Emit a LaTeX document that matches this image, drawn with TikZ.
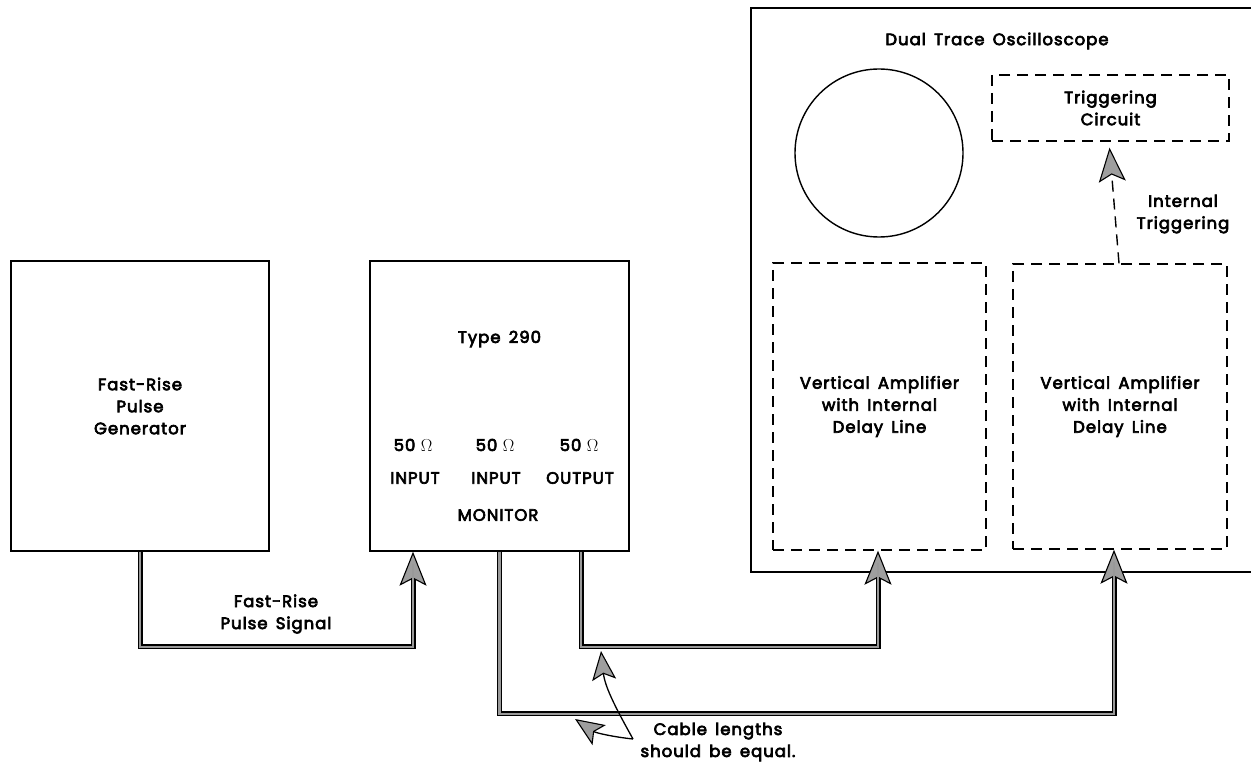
\documentclass[tikz,border=0pt]{standalone}
\usepackage{fontspec}
\setmainfont{Poppins}[LetterSpace=6, FakeBold=4]
\usetikzlibrary{arrows.meta}
\tikzset{
  gtip/.tip={Stealth[length=34pt, width=27pt, inset=7pt, fill=black!38, line width=1.1pt]},
  stip/.tip={Stealth[length=29pt, width=24pt, inset=6pt, fill=black!38, line width=1.1pt]}
}
\begin{document}
\begin{tikzpicture}[x=1pt,y=-1pt,
  every node/.style={font=\fontsize{16.5}{22}\selectfont, align=center, inner sep=0pt},
  dbox/.style={draw, line width=1.4pt, dash pattern=on 11pt off 7pt},
  frame/.style={draw, line width=1.4pt},
  cable/.style={line width=5pt, black, -{gtip},
    postaction={draw=black!40, line width=2.4pt, arrows=-, shorten >=12pt}},
  trig/.style={line width=1.4pt, dash pattern=on 11pt off 7pt, -{gtip}},
  callout/.style={line width=1.3pt, -{stip}}
]
\useasboundingbox (0,0) rectangle (1251,762);

% boxes
\node[draw, line width=1.4pt, minimum width=258pt, minimum height=290pt] (pg) at (140,406)
  {Fast-Rise\\Pulse\\Generator};
\node[draw, line width=1.4pt, minimum width=259pt, minimum height=290pt] (t290) at (499.5,406) {};
\node (t290lbl) at (499.5,339) {Type\enspace 290};
\node (z1) at (413,445) {50 $\Omega$};
\node (z2) at (495,445) {50 $\Omega$};
\node (z3) at (579,445) {50 $\Omega$};
\node (p1) at (415,478) {INPUT};
\node (p2) at (496,478) {INPUT};
\node (p3) at (580,478) {OUTPUT};
\node (mon) at (498,515) {MONITOR};

% oscilloscope
\draw[frame] (1251,8) -- (751,8) -- (751,572) -- (1251,572);
\node (osc) at (997,41) {Dual\enspace Trace\enspace Oscilloscope};
\draw[line width=1.4pt] (879,153) circle[radius=84];
\node[dbox, minimum width=237pt, minimum height=66pt] (trg) at (1110.5,108) {Triggering\\Circuit};
\node[dbox, minimum width=213pt, minimum height=287pt] (va1) at (879.5,406.5)
  {Vertical\enspace Amplifier\\with\enspace Internal\\Delay\enspace Line};
\node[dbox, minimum width=214pt, minimum height=285pt] (va2) at (1120,406.5)
  {Vertical\enspace Amplifier\\with\enspace Internal\\Delay\enspace Line};
\node (itl) at (1183,214) {Internal\\Triggering};
\draw[trig] ([xshift=-1pt]va2.north) -- ([xshift=-1pt,yshift=-6pt]trg.south);

% cables
\draw[cable] (pg.south) -- ++(0,95) -| ([xshift=-86.5pt]t290.south);
\node (sig) at (276,614) {Fast-Rise\\Pulse\enspace Signal};
\draw[cable] ([xshift=81.5pt]t290.south) -- ++(0,95) -| ([xshift=-1.5pt]va1.south);
\draw[cable] (t290.south) -- ++(0,162) -| ([xshift=-6pt]va2.south);

% callout
\coordinate (cl) at (633,739);
\draw[callout] (cl) .. controls (618,712) and (605,688) .. (601,651);
\draw[callout] (cl) .. controls (614,737) and (596,733) .. (575,719);
\node (cbl) at (718,742) {Cable\enspace lengths\\should\enspace be\enspace equal.};
\end{tikzpicture}
\end{document}
